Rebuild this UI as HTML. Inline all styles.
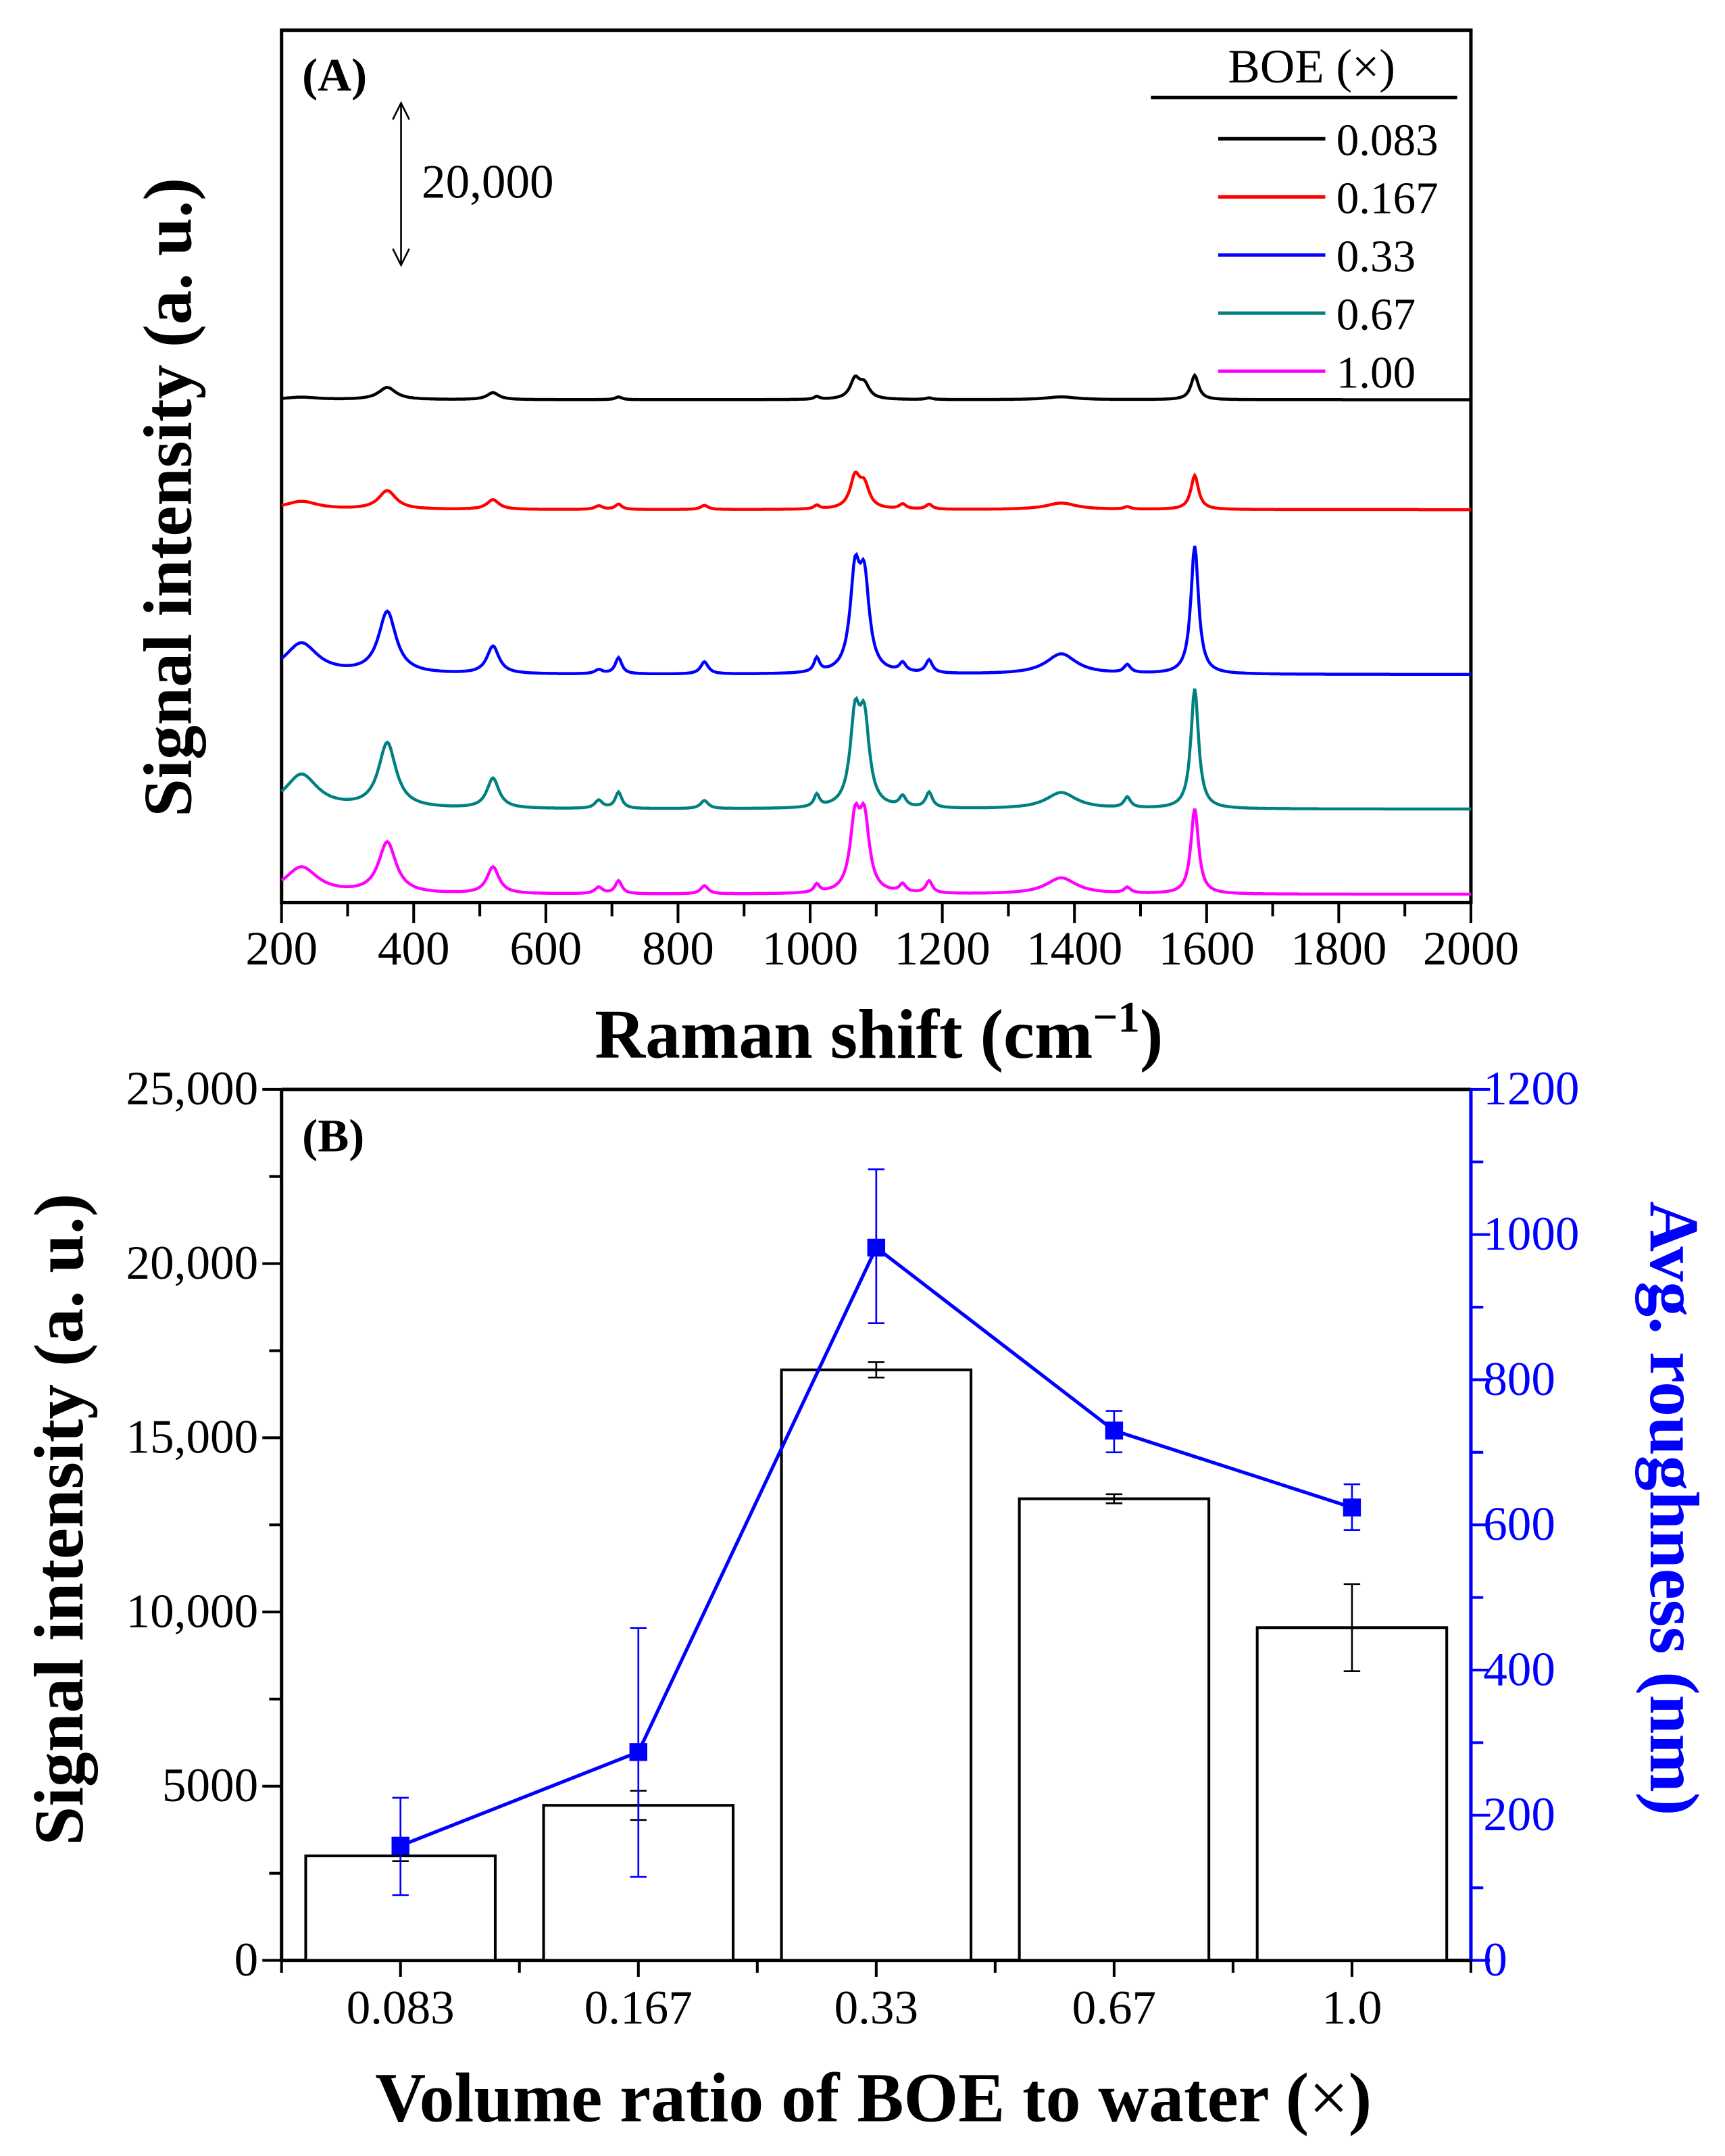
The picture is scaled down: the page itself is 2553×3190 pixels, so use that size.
<!DOCTYPE html>
<html><head><meta charset="utf-8"><style>
html,body{margin:0;padding:0;background:#fff}
svg{display:block}
text{font-family:"Liberation Serif",serif}
</style></head><body>
<svg id="fig" width="2553" height="3190" viewBox="0 0 1256 1569.4" xmlns="http://www.w3.org/2000/svg">
<g id="A"></g>
<g id="B"></g>
</svg>
<script>
// ---- Panel A data ----
const seriesNames = ["0.083","0.167","0.33","0.67","1.00"];
const seriesColors = ["#000000","#ff0000","#0000ff","#008080","#ff00ff"];
const seriesOffsets = [62040, 48480, 28140, 11530, 1020];
const peakPos = [230, 360, 520, 680, 710, 840, 1010, 1068, 1082, 1140, 1180, 1380, 1480, 1582];
const peakWidth = [30, 16, 11, 7, 6, 7, 5, 9, 9, 6, 6, 28, 6, 7];
const amp0083 = [300, 1500, 850, 0, 350, 0, 350, 2400, 1700, 0, 200, 350, 0, 3000];
const amp0167 = [1000, 2300, 1200, 450, 650, 500, 450, 3800, 2700, 600, 600, 800, 300, 4200];
const amp033 = [3800, 7600, 3400, 500, 2000, 1500, 1700, 11500, 10500, 1100, 1600, 2500, 1000, 15800];
const amp067 = [4200, 8000, 3700, 1000, 2000, 1000, 1500, 10500, 10000, 1300, 1900, 2000, 1300, 14800];
const amp100 = [3300, 6300, 3300, 800, 1600, 1000, 1000, 8500, 8500, 1000, 1500, 2000, 700, 10500];
const seriesAmps = [amp0083, amp0167, amp033, amp067, amp100];
const xTicksA = [200,400,600,800,1000,1200,1400,1600,1800,2000];

// ---- Panel B data ----
const categories = ["0.083","0.167","0.33","0.67","1.0"];
const barValues = [3000, 4450, 16950, 13250, 9550];
const barErrors = [150, 420, 220, 130, 1250];
const roughValues = [158, 287, 982, 730, 624];
const roughErrLow = [68, 172, 104, 30, 31];
const roughErrHigh = [66, 171, 108, 27, 32];
const leftTicks = [0,5000,10000,15000,20000,25000];
const leftTickLabels = ["0","5000","10,000","15,000","20,000","25,000"];
const rightTicks = [0,200,400,600,800,1000,1200];

const NS="http://www.w3.org/2000/svg";
function mk(parent, tag, attrs, txt){
  const e=document.createElementNS(NS,tag);
  for(const k in attrs) e.setAttribute(k,attrs[k]);
  if(txt!==undefined) e.textContent=txt;
  parent.appendChild(e); return e;
}
const A=document.getElementById('A'), B=document.getElementById('B');

// ---- Panel A ----
const axL=205, axR=1071, aT=22, aB=657;
const xA = v => axL + (v-200)/1800*(axR-axL);
const yA = c => aB - c/169.5;
let box=mk(A,'rect',{x:axL,y:aT,width:axR-axL,height:aB-aT,fill:'none',stroke:'#000','stroke-width':2.5});


for(let v=200; v<=2000; v+=100){
  const major = xTicksA.includes(v);
  const t=mk(A,'line',{x1:xA(v),x2:xA(v),y1:aB,y2:aB+(major?15:10),stroke:'#000','stroke-width':2});
  
  
}
xTicksA.forEach(v=>{
  const t=mk(A,'text',{x:xA(v),y:702,'font-size':35,'text-anchor':'middle'},String(v));
  
  
});
seriesAmps.forEach((amps,si)=>{
  let d='';
  for(let x=200; x<=2000; x+=2){
    let c=seriesOffsets[si];
    for(let p=0;p<peakPos.length;p++){
      const w=peakWidth[p], dx=x-peakPos[p];
      c+=amps[p]*w*w/(dx*dx+w*w);
    }
    d+=(x===200?'M':'L')+xA(x).toFixed(1)+' '+yA(c).toFixed(1)+' ';
  }
  const pth=mk(A,'path',{d:d,fill:'none',stroke:seriesColors[si],'stroke-width':2.2});
  
  
});
let t;
t=mk(A,'text',{x:220,y:66,'font-size':34,'font-weight':'bold'},'(A)');

t=mk(A,'path',{d:'M292 75 L292 193 M286 87 L292 75 L298 87 M286 181 L292 193 L298 181',fill:'none',stroke:'#000','stroke-width':1.3});

t=mk(A,'text',{x:307,y:144,'font-size':35},'20,000');

t=mk(A,'text',{x:955,y:60,'font-size':35,'text-anchor':'middle'},'BOE (×)');

t=mk(A,'line',{x1:838,x2:1061,y1:71,y2:71,stroke:'#000','stroke-width':2.5});

seriesNames.forEach((n,i)=>{
  const y=101+i*42.3;
  const l=mk(A,'line',{x1:887,x2:965,y1:y,y2:y,stroke:seriesColors[i],'stroke-width':2.5});
  
  
  const tx=mk(A,'text',{x:973,y:y+12,'font-size':33},n);
  
  
});
t=mk(A,'text',{x:0,y:0,'font-size':50,'font-weight':'bold','text-anchor':'middle',transform:'translate(139,362) rotate(-90)'},'Signal intensity (a. u.)');

t=mk(A,'text',{x:640,y:770,'font-size':51,'font-weight':'bold','text-anchor':'middle'},'');

t.innerHTML='Raman shift (cm<tspan dy="-19" font-size="32">−1</tspan><tspan dy="19">)</tspan>';

// ---- Panel B ----
const bL=205, bR=1071, bT=793, bB=1427;
const yL = v => bB - v/25000*(bB-bT);
const yR = v => bB - v/1200*(bB-bT);
const catW=(bR-bL)/5;
const xB = i => bL + catW*(i+0.5);
const barW=138;
let ax;
ax=mk(B,'line',{x1:bL,x2:bR,y1:bT,y2:bT,stroke:'#000','stroke-width':2.5});

ax=mk(B,'line',{x1:bL,x2:bR,y1:bB,y2:bB,stroke:'#000','stroke-width':2.5});

ax=mk(B,'line',{x1:bL,x2:bL,y1:bT,y2:bB,stroke:'#000','stroke-width':2.5});

ax=mk(B,'line',{x1:bR,x2:bR,y1:bT,y2:bB,stroke:'#0000ff','stroke-width':2.5});

for(let v=0; v<=25000; v+=2500){
  const major=v%5000===0;
  const l=mk(B,'line',{x1:bL-(major?14:9),x2:bL,y1:yL(v),y2:yL(v),stroke:'#000','stroke-width':2});
  
}
leftTicks.forEach((v,i)=>{
  const tx=mk(B,'text',{x:188,y:yL(v)+11,'font-size':35,'text-anchor':'end'},leftTickLabels[i]);
  
});
for(let v=0; v<=1200; v+=100){
  const major=v%200===0;
  const l=mk(B,'line',{x1:bR,x2:bR+(major?14:9),y1:yR(v),y2:yR(v),stroke:'#0000ff','stroke-width':2});
  
}
rightTicks.forEach(v=>{
  const tx=mk(B,'text',{x:1080,y:yR(v)+11,'font-size':35,fill:'#0000ff'},String(v));
  
});
for(let i=0;i<=10;i++){
  const x=bL+catW*i/2;
  const l=mk(B,'line',{x1:x,x2:x,y1:bB,y2:bB+(i%2?12:9),stroke:'#000','stroke-width':2});
  
}
categories.forEach((c,i)=>{
  const tx=mk(B,'text',{x:xB(i),y:1473,'font-size':35,'text-anchor':'middle'},c);
  
  const r=mk(B,'rect',{x:xB(i)-barW/2,y:yL(barValues[i]),width:barW,height:bB-yL(barValues[i]),fill:'#fff',stroke:'#000','stroke-width':2});
  
  const e=mk(B,'path',{d:`M${xB(i)} ${yL(barValues[i]-barErrors[i])} L${xB(i)} ${yL(barValues[i]+barErrors[i])} M${xB(i)-6} ${yL(barValues[i]-barErrors[i])} h12 M${xB(i)-6} ${yL(barValues[i]+barErrors[i])} h12`,stroke:'#000','stroke-width':1.3,fill:'none'});
  
});
let ld='';
roughValues.forEach((v,i)=>{ ld+=(i?'L':'M')+xB(i)+' '+yR(v)+' '; });
const ln=mk(B,'path',{d:ld,fill:'none',stroke:'#0000ff','stroke-width':2.5});

roughValues.forEach((v,i)=>{
  const lo=v-roughErrLow[i], hi=v+roughErrHigh[i];
  const e=mk(B,'path',{d:`M${xB(i)} ${yR(lo)} L${xB(i)} ${yR(hi)} M${xB(i)-6} ${yR(lo)} h12 M${xB(i)-6} ${yR(hi)} h12`,stroke:'#0000ff','stroke-width':1.3,fill:'none'});
  
  const m=mk(B,'rect',{x:xB(i)-6.5,y:yR(v)-6.5,width:13,height:13,fill:'#0000ff'});
  
});
t=mk(B,'text',{x:220,y:838,'font-size':34,'font-weight':'bold'},'(B)');

t=mk(B,'text',{x:0,y:0,'font-size':51,'font-weight':'bold','text-anchor':'middle',transform:'translate(60,1106) rotate(-90)'},'Signal intensity (a. u.)');

t=mk(B,'text',{x:0,y:0,'font-size':51,'font-weight':'bold','text-anchor':'middle',fill:'#0000ff',transform:'translate(1202,1098) rotate(90)'},'Avg. roughness (nm)');

t=mk(B,'text',{x:636,y:1544,'font-size':51,'font-weight':'bold','text-anchor':'middle'},'');

t.innerHTML='Volume ratio of BOE to water (<tspan font-weight="normal">×</tspan>)';
</script>
</body></html>
